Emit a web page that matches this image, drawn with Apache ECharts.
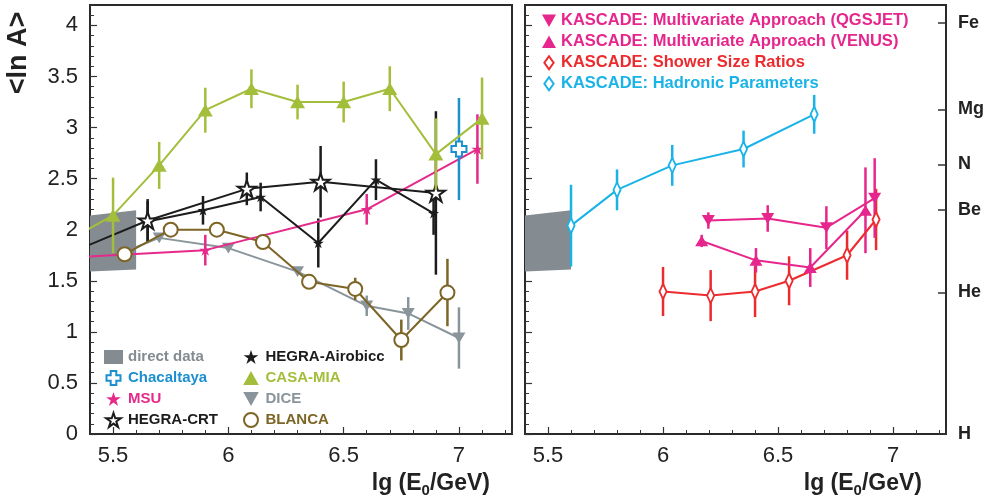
<!DOCTYPE html>
<html>
<head>
<meta charset="utf-8">
<script src="https://cdn.jsdelivr.net/npm/echarts@6/dist/echarts.min.js"></script>
<style>
  html, body { margin: 0; padding: 0; background: #fff; }
  #chart { width: 986px; height: 502px; }
</style>
</head>
<body>
<div id="chart"></div>
<script>
// ---------- Left panel: <ln A> from various air-shower experiments ----------
const directX = [5.4, 5.6];
const directTop = [2.14, 2.19];
const directBottom = [1.59, 1.61];

const chacaltayaX = [7.0];
const chacaltayaY = [2.79];
const chacaltayaErr = [0.5];

const msuX = [5.3, 5.9, 6.6, 7.08];
const msuY = [1.725, 1.80, 2.20, 2.79];
const msuErr = [null, 0.15, 0.15, 0.34];

const hegraCrtX = [5.3, 5.65, 6.08, 6.40, 6.90];
const hegraCrtY = [1.76, 2.09, 2.40, 2.47, 2.36];
const hegraCrtErr = [null, 0.21, 0.16, 0.35, 0.8];

const airobiccX = [5.65, 5.89, 6.14, 6.39, 6.64, 6.89];
const airobiccY = [2.08, 2.19, 2.32, 1.87, 2.49, 2.16];
const airobiccErr = [0.2, 0.14, 0.14, 0.24, 0.2, 0.21];

const casaMiaX = [5.3, 5.5, 5.7, 5.9, 6.1, 6.3, 6.5, 6.7, 6.9, 7.1];
const casaMiaY = [1.89, 2.14, 2.63, 3.17, 3.38, 3.25, 3.25, 3.38, 2.74, 3.09];
const casaMiaErr = [null, 0.37, 0.23, 0.22, 0.19, 0.17, 0.2, 0.22, 0.35, 0.4];

const diceX = [5.5, 5.7, 6.0, 6.3, 6.6, 6.78, 7.0];
const diceY = [1.74, 1.92, 1.82, 1.59, 1.255, 1.18, 0.94];
const diceErr = [null, null, null, null, 0.1, 0.16, 0.3];

const blancaX = [5.55, 5.75, 5.95, 6.15, 6.35, 6.55, 6.75, 6.95];
const blancaY = [1.76, 2.0, 2.0, 1.88, 1.49, 1.42, 0.92, 1.385];
const blancaErr = [null, null, null, null, null, 0.11, 0.2, 0.33];

// ---------- Right panel: KASCADE analyses ----------
const qgsjetX = [6.197, 6.455, 6.71, 6.92];
const qgsjetY = [2.09, 2.11, 2.02, 2.31];
const qgsjetErr = [0.08, 0.13, 0.21, 0.39];

const venusX = [6.168, 6.404, 6.64, 6.88];
const venusY = [1.89, 1.70, 1.63, 2.19];
const venusErr = [0.06, 0.12, 0.19, 0.42];

const showerX = [6.0, 6.207, 6.40, 6.548, 6.80, 6.926];
const showerY = [1.395, 1.355, 1.395, 1.50, 1.75, 2.10];
const showerErr = [0.24, 0.25, 0.25, 0.24, 0.24, 0.3];

const hadronicX = [5.6, 5.8, 6.04, 6.35, 6.657];
const hadronicY = [2.04, 2.39, 2.63, 2.79, 3.13];
const hadronicErr = [0.4, 0.2, 0.2, 0.18, 0.19];

// ---------- Axis ticks ----------
const xMajorTicks = [5.5, 6, 6.5, 7];
const yMajorTicks = [0, 0.5, 1, 1.5, 2, 2.5, 3, 3.5, 4];
const elementNames = ['H', 'He', 'Be', 'N', 'Mg', 'Fe'];
const elementMass = [1, 4, 9, 14, 24, 56];
const elementLnA = elementMass.map(a => Math.log(a));

// ---------- Styling ----------
const FONT = '"Liberation Sans", Arial, Helvetica, sans-serif';
const C = {
  green: '#a3be3b', black: '#1c1c1c', magenta: '#e52a8a', blue: '#1b8fcf',
  gray: '#8a949b', olive: '#7d6526', box: '#848b91',
  kMagenta: '#e6268c', kRed: '#ec2b2f', kCyan: '#1ab3e8'
};
const STAR = 'path://M50,2 L62,38 L100,38 L69,60 L81,97 L50,74 L19,97 L31,60 L0,38 L38,38 Z';
const DOWN_TRI = 'path://M0,0 L10,0 L5,9 Z';
const UP_TRI = 'path://M5,0 L10,9 L0,9 Z';
const CROSS = 'path://M3,0 H7 V3 H10 V7 H7 V10 H3 V7 H0 V3 H3 Z';
const DIAMOND = 'path://M5,0 L10,7 L5,14 L0,7 Z';

const X_MIN = 5.4, X_MAX = 7.23, Y_MIN = 0, Y_MAX = 4.2;

function errorSeries(name, xs, ys, es, color, xi, yi, z) {
  const data = [];
  xs.forEach((x, i) => { if (es[i] != null) data.push([x, ys[i], es[i]]); });
  return {
    type: 'custom', name: name + ' (errors)', xAxisIndex: xi, yAxisIndex: yi,
    z, silent: true, clip: true, animation: false, data,
    renderItem: (params, api) => {
      const x = api.value(0), y = api.value(1), e = api.value(2);
      const a = api.coord([x, y + e]), b = api.coord([x, y - e]);
      return { type: 'line', shape: { x1: a[0], y1: a[1], x2: b[0], y2: b[1] },
               style: { stroke: color, lineWidth: 2.5 } };
    }
  };
}

function lineSeries(name, xs, ys, color, symbol, size, open, xi, yi, z) {
  return {
    type: 'line', name, xAxisIndex: xi, yAxisIndex: yi, z,
    data: xs.map((x, i) => [x, ys[i]]),
    symbol, symbolSize: size, symbolKeepAspect: true, showAllSymbol: true,
    lineStyle: { color, width: 2 },
    itemStyle: open ? { color: '#fff', borderColor: color, borderWidth: 2 }
                    : { color, borderWidth: 0 },
    clip: true, animation: false
  };
}

function directSeries(xi, yi) {
  return {
    type: 'custom', name: 'direct data', xAxisIndex: xi, yAxisIndex: yi, z: 3,
    silent: true, clip: true, animation: false, data: [[directX[0], directBottom[0]]],
    itemStyle: { color: C.box },
    renderItem: (params, api) => {
      const pts = [
        api.coord([directX[0], directTop[0]]), api.coord([directX[1], directTop[1]]),
        api.coord([directX[1], directBottom[1]]), api.coord([directX[0], directBottom[0]])
      ];
      return { type: 'polygon', shape: { points: pts }, style: { fill: C.box } };
    }
  };
}

function xMinor(gi) {
  return { type: 'value', gridIndex: gi, position: 'bottom', min: X_MIN, max: X_MAX, interval: 0.1,
    axisLine: { show: false }, splitLine: { show: false }, axisLabel: { show: false },
    axisTick: { show: true, inside: true, length: 4, lineStyle: { color: '#333', width: 1 } } };
}
function xMajor(gi) {
  return { type: 'value', gridIndex: gi, position: 'bottom', min: X_MIN, max: X_MAX,
    axisLine: { show: false }, splitLine: { show: false },
    axisTick: { show: true, inside: true, length: 7, customValues: xMajorTicks,
                lineStyle: { color: '#333', width: 1.2 } },
    axisLabel: { customValues: xMajorTicks, fontSize: 22, color: '#222', margin: 11, fontFamily: FONT } };
}
function yMinor(gi) {
  return { type: 'value', gridIndex: gi, position: 'left', min: Y_MIN, max: Y_MAX, interval: 0.1,
    axisLine: { show: false }, splitLine: { show: false }, axisLabel: { show: false },
    axisTick: { show: true, inside: true, length: 4, lineStyle: { color: '#333', width: 1 } } };
}
function yMajor(gi, labels) {
  return { type: 'value', gridIndex: gi, position: 'left', min: Y_MIN, max: Y_MAX,
    axisLine: { show: false }, splitLine: { show: false },
    axisTick: { show: true, inside: true, length: 7, customValues: yMajorTicks,
                lineStyle: { color: '#333', width: 1.2 } },
    axisLabel: labels
      ? { customValues: yMajorTicks, fontSize: 22, color: '#222', margin: 12, fontFamily: FONT }
      : { show: false } };
}

const series = [
  // left panel
  lineSeries('DICE', diceX, diceY, C.gray, DOWN_TRI, [13, 12], false, 0, 0, 2),
  errorSeries('DICE', diceX, diceY, diceErr, C.gray, 0, 0, 2),
  directSeries(0, 0),
  errorSeries('BLANCA', blancaX, blancaY, blancaErr, C.olive, 0, 0, 4),
  lineSeries('BLANCA', blancaX, blancaY, C.olive, 'circle', 14, true, 0, 0, 4),
  errorSeries('MSU', msuX, msuY, msuErr, C.magenta, 0, 0, 4),
  lineSeries('MSU', msuX, msuY, C.magenta, STAR, 12, false, 0, 0, 4),
  errorSeries('HEGRA-Airobicc', airobiccX, airobiccY, airobiccErr, C.black, 0, 0, 4),
  lineSeries('HEGRA-Airobicc', airobiccX, airobiccY, C.black, STAR, 11, false, 0, 0, 4),
  errorSeries('HEGRA-CRT', hegraCrtX, hegraCrtY, hegraCrtErr, C.black, 0, 0, 4),
  lineSeries('HEGRA-CRT', hegraCrtX, hegraCrtY, C.black, STAR, 18, true, 0, 0, 4),
  errorSeries('CASA-MIA', casaMiaX, casaMiaY, casaMiaErr, C.green, 0, 0, 5),
  lineSeries('CASA-MIA', casaMiaX, casaMiaY, C.green, UP_TRI, [15, 14], false, 0, 0, 5),
  errorSeries('Chacaltaya', chacaltayaX, chacaltayaY, chacaltayaErr, C.blue, 0, 0, 5),
  lineSeries('Chacaltaya', chacaltayaX, chacaltayaY, C.blue, CROSS, 15, true, 0, 0, 5),
  // right panel
  directSeries(2, 2),
  errorSeries('KASCADE: Hadronic Parameters', hadronicX, hadronicY, hadronicErr, C.kCyan, 2, 2, 4),
  lineSeries('KASCADE: Hadronic Parameters', hadronicX, hadronicY, C.kCyan, DIAMOND, [10, 15], true, 2, 2, 4),
  errorSeries('KASCADE: Shower Size Ratios', showerX, showerY, showerErr, C.kRed, 2, 2, 4),
  lineSeries('KASCADE: Shower Size Ratios', showerX, showerY, C.kRed, DIAMOND, [10, 15], true, 2, 2, 4),
  errorSeries('KASCADE: Multivariate Approach (VENUS)', venusX, venusY, venusErr, C.kMagenta, 2, 2, 4),
  lineSeries('KASCADE: Multivariate Approach (VENUS)', venusX, venusY, C.kMagenta, UP_TRI, [13, 12], false, 2, 2, 4),
  errorSeries('KASCADE: Multivariate Approach (QGSJET)', qgsjetX, qgsjetY, qgsjetErr, C.kMagenta, 2, 2, 4),
  lineSeries('KASCADE: Multivariate Approach (QGSJET)', qgsjetX, qgsjetY, C.kMagenta, DOWN_TRI, [13, 12], false, 2, 2, 4)
];

function legendItem(name, icon, color, open) {
  return {
    name, icon,
    itemStyle: open ? { color: '#fff', borderColor: color, borderWidth: 2 }
                    : { color, borderWidth: 0 },
    textStyle: { color }
  };
}
const legendText = { fontSize: 15, fontWeight: 'bold', fontFamily: FONT, lineHeight: 18 };

const option = {
  animation: false,
  backgroundColor: '#fff',
  grid: [
    { left: 90, top: 5, width: 422, height: 429, outerBoundsMode: 'none', containLabel: false,
      show: true, borderColor: '#2a2a2a', borderWidth: 2, backgroundColor: 'transparent' },
    { left: 525, top: 5, width: 421, height: 429, outerBoundsMode: 'none', containLabel: false,
      show: true, borderColor: '#2a2a2a', borderWidth: 2, backgroundColor: 'transparent' }
  ],
  xAxis: [xMinor(0), xMajor(0), xMinor(1), xMajor(1)],
  yAxis: [
    yMinor(0), yMajor(0, true), yMinor(1), yMajor(1, false),
    { type: 'value', gridIndex: 1, position: 'right', min: Y_MIN, max: Y_MAX,
      axisLine: { show: false }, splitLine: { show: false },
      axisTick: { show: true, inside: true, length: 8, customValues: elementLnA,
                  lineStyle: { color: '#333', width: 1.5 } },
      axisLabel: { customValues: elementLnA, margin: 12, fontSize: 18, fontWeight: 'bold',
                   color: '#222', fontFamily: FONT,
                   formatter: v => {
                     const i = elementLnA.findIndex(l => Math.abs(l - v) < 1e-6);
                     return i >= 0 ? elementNames[i] : '';
                   } } }
  ],
  legend: [
    { left: 104, top: 348, orient: 'vertical', itemWidth: 19, itemHeight: 14, itemGap: 3,
      padding: 0, selectedMode: false, textStyle: legendText,
      data: [
        legendItem('direct data', 'rect', C.box, false),
        legendItem('Chacaltaya', CROSS, C.blue, true),
        legendItem('MSU', STAR, C.magenta, false),
        legendItem('HEGRA-CRT', STAR, C.black, true)
      ] },
    { left: 243, top: 348, orient: 'vertical', itemWidth: 19, itemHeight: 14, itemGap: 3,
      padding: 0, selectedMode: false, textStyle: legendText,
      data: [
        legendItem('HEGRA-Airobicc', STAR, C.black, false),
        legendItem('CASA-MIA', UP_TRI, C.green, false),
        legendItem('DICE', DOWN_TRI, C.gray, false),
        legendItem('BLANCA', 'circle', C.olive, true)
      ] },
    { left: 542, top: 11, orient: 'vertical', itemWidth: 14, itemHeight: 13, itemGap: 1.5,
      padding: 0, selectedMode: false,
      textStyle: Object.assign({}, legendText, { fontSize: 16.5, lineHeight: 19.5 }),
      data: [
        legendItem('KASCADE: Multivariate Approach (QGSJET)', DOWN_TRI, C.kMagenta, false),
        legendItem('KASCADE: Multivariate Approach (VENUS)', UP_TRI, C.kMagenta, false),
        legendItem('KASCADE: Shower Size Ratios', DIAMOND, C.kRed, true),
        legendItem('KASCADE: Hadronic Parameters', DIAMOND, C.kCyan, true)
      ] }
  ],
  graphic: [
    { type: 'text', x: 19, y: 53, rotation: Math.PI / 2,
      style: { text: '<ln A>', font: 'bold 27px ' + FONT, fill: '#222', align: 'center', verticalAlign: 'middle' } },
    { type: 'text', x: 490, y: 484,
      style: { text: '{m|lg (E}{s|0}{m|/GeV)}', align: 'right', verticalAlign: 'middle', fill: '#222',
        rich: { m: { font: 'bold 23px ' + FONT, lineHeight: 28, fill: '#222' },
                s: { font: 'bold 15px ' + FONT, lineHeight: 15, verticalAlign: 'bottom', fill: '#222' } } } },
    { type: 'text', x: 922, y: 484,
      style: { text: '{m|lg (E}{s|0}{m|/GeV)}', align: 'right', verticalAlign: 'middle', fill: '#222',
        rich: { m: { font: 'bold 23px ' + FONT, lineHeight: 28, fill: '#222' },
                s: { font: 'bold 15px ' + FONT, lineHeight: 15, verticalAlign: 'bottom', fill: '#222' } } } }
  ],
  series
};

const chart = echarts.init(document.getElementById('chart'), null, { renderer: 'canvas' });
chart.setOption(option);
</script>
</body>
</html>
